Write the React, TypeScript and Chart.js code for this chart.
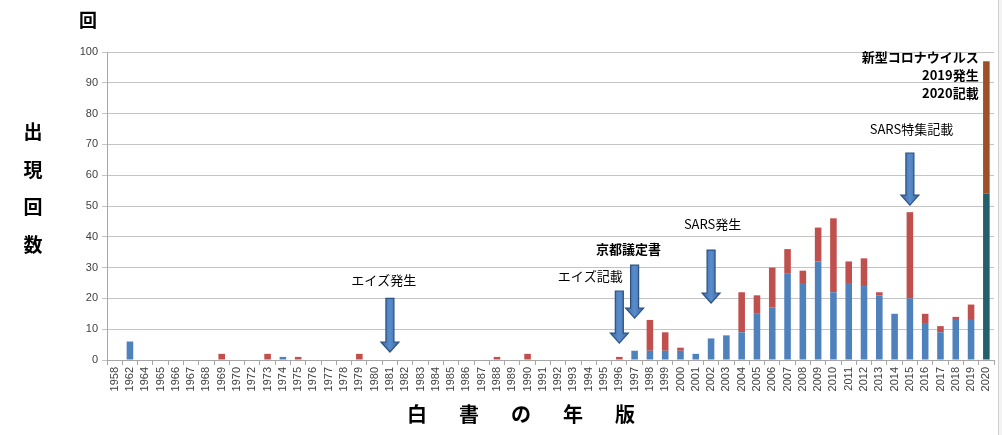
import { useEffect, useRef } from 'react';
import { Chart, registerables } from 'chart.js';

Chart.register(...registerables);

// ---- data ----
const years: string[] = [
  '1958', '1962', '1964', '1965', '1966', '1967', '1968', '1969', '1970',
  '1972', '1973', '1974', '1975', '1976', '1977', '1978', '1979', '1980',
  '1981', '1982', '1983', '1984', '1985', '1986', '1987', '1988', '1989',
  '1990', '1991', '1992', '1993', '1994', '1995', '1996', '1997', '1998',
  '1999', '2000', '2001', '2002', '2003', '2004', '2005', '2006', '2007',
  '2008', '2009', '2010', '2011', '2012', '2013', '2014', '2015', '2016',
  '2017', '2018', '2019', '2020',
];

// lower (blue) segment
const lowerCounts: number[] = [
  0, 6, 0, 0, 0, 0, 0, 0, 0,
  0, 0, 1, 0, 0, 0, 0, 0, 0,
  0, 0, 0, 0, 0, 0, 0, 0, 0,
  0, 0, 0, 0, 0, 0, 0, 3, 3,
  3, 3, 2, 7, 8, 9, 15, 17, 28,
  25, 32, 22, 25, 24, 21, 15, 20, 12,
  9, 13, 13, 54,
];

// upper (red) segment
const upperCounts: number[] = [
  0, 0, 0, 0, 0, 0, 0, 2, 0,
  0, 2, 0, 1, 0, 0, 0, 2, 0,
  0, 0, 0, 0, 0, 0, 0, 1, 0,
  2, 0, 0, 0, 0, 0, 1, 0, 10,
  6, 1, 0, 0, 0, 13, 6, 13, 8,
  4, 11, 24, 7, 9, 1, 0, 28, 3,
  2, 1, 5, 43,
];

const yTicks: number[] = [0, 10, 20, 30, 40, 50, 60, 70, 80, 90, 100];

const yTitleChars: string[] = ['出', '現', '回', '数'];
const xTitleChars: string[] = ['白', '書', 'の', '年', '版'];
const unitLabel = '回';

// annotation arrows: category, start value, tip value
const arrowCats: string[] = ['1981', '1996', '1997', '2002', '2015'];
const arrowFrom: number[] = [20, 22.4, 30.8, 35.7, 67.2];
const arrowTo: number[] = [2.6, 5.5, 13.6, 18.5, 50.3];

// annotation texts: label, category index position, value position
const noteTexts: string[] = ['エイズ発生', 'エイズ記載', '京都議定書', 'SARS発生', 'SARS特集記載'];
const noteIndex: number[] = [17.6, 31.1, 33.6, 39.1, 52.1];
const noteValue: number[] = [26, 27.3, 36, 44.2, 75];
const noteBold: boolean[] = [false, false, true, false, false];

const covidLines: string[] = ['新型コロナウイルス', '2019発生', '2020記載'];
const covidValues: number[] = [98.4, 92.5, 86.7];
const covidIndex = 56.5;

// ---- styles ----
const BLUE = '#4f81bd';
const RED = '#c0504d';
const TEAL = '#245f6c';
const BROWN = '#9e4f28';
const JP = '"Noto Sans CJK JP", "Noto Sans", sans-serif';
const TICK_FONT = '"Liberation Sans", Arial, sans-serif';

const W = 1002;
const H = 435;

const annotationPlugin = {
  id: 'annotationsAndTitles',
  afterDatasetsDraw(chart: any) {
    const ctx = chart.ctx as CanvasRenderingContext2D;
    const xs = chart.scales.x;
    const ys = chart.scales.y;

    // arrows
    arrowCats.forEach((cat, i) => {
      const idx = years.indexOf(cat);
      const cx = xs.getPixelForValue(idx);
      const top = ys.getPixelForValue(arrowFrom[i]);
      const tip = ys.getPixelForValue(arrowTo[i]);
      const sw = 4;
      const hw = 9;
      const hl = 10;
      ctx.save();
      ctx.beginPath();
      ctx.moveTo(cx - sw, top);
      ctx.lineTo(cx + sw, top);
      ctx.lineTo(cx + sw, tip - hl);
      ctx.lineTo(cx + hw, tip - hl);
      ctx.lineTo(cx, tip);
      ctx.lineTo(cx - hw, tip - hl);
      ctx.lineTo(cx - sw, tip - hl);
      ctx.closePath();
      const g = ctx.createLinearGradient(cx - hw, 0, cx + hw, 0);
      g.addColorStop(0, '#3b6aa5');
      g.addColorStop(0.5, '#5a8ccb');
      g.addColorStop(1, '#3b6aa5');
      ctx.fillStyle = g;
      ctx.fill();
      ctx.lineWidth = 1.2;
      ctx.strokeStyle = '#2d5181';
      ctx.stroke();
      ctx.restore();
    });

    // notes
    ctx.save();
    ctx.fillStyle = '#000';
    ctx.textBaseline = 'middle';
    noteTexts.forEach((t, i) => {
      const x = xs.getPixelForValue(noteIndex[i]);
      const y = ys.getPixelForValue(noteValue[i]);
      ctx.font = `${noteBold[i] ? 'bold ' : ''}13px ${JP}`;
      ctx.textAlign = 'center';
      ctx.fillText(t, x, y);
    });
    covidLines.forEach((t, i) => {
      const x = xs.getPixelForValue(covidIndex);
      const y = ys.getPixelForValue(covidValues[i]);
      ctx.font = `bold 13px ${JP}`;
      ctx.textAlign = 'right';
      ctx.fillText(t, x, y);
    });
    ctx.restore();
  },
  afterDraw(chart: any) {
    const ctx = chart.ctx as CanvasRenderingContext2D;
    ctx.save();
    ctx.fillStyle = '#000';
    ctx.textAlign = 'center';
    ctx.textBaseline = 'middle';
    // unit label
    ctx.font = `bold 18px ${JP}`;
    ctx.fillText(unitLabel, 88, 20);
    // y title
    ctx.font = `bold 19px ${JP}`;
    yTitleChars.forEach((c, i) => {
      ctx.fillText(c, 33, 132 + i * 37.5);
    });
    // x title
    ctx.font = `bold 20px ${JP}`;
    xTitleChars.forEach((c, i) => {
      ctx.fillText(c, 417 + i * 52, 414);
    });
    // right border of the picture
    ctx.fillStyle = '#f3f3f3';
    ctx.fillRect(998, 0, W - 998, H);
    ctx.strokeStyle = '#d0d0d0';
    ctx.lineWidth = 1;
    ctx.beginPath();
    ctx.moveTo(998.5, 0);
    ctx.lineTo(998.5, H);
    ctx.stroke();
    ctx.restore();
  },
};

export default function App() {
  const ref = useRef<HTMLCanvasElement | null>(null);

  useEffect(() => {
    document.body.style.margin = '0';
    const canvas = ref.current;
    if (!canvas) return;
    const last = years.length - 1;
    const chart = new Chart(canvas, {
      type: 'bar',
      data: {
        labels: years,
        datasets: [
          {
            label: 'lower',
            data: lowerCounts,
            backgroundColor: years.map((_, i) => (i === last ? TEAL : BLUE)),
            barPercentage: 0.43,
            categoryPercentage: 1,
            stack: 's',
          },
          {
            label: 'upper',
            data: upperCounts,
            backgroundColor: years.map((_, i) => (i === last ? BROWN : RED)),
            barPercentage: 0.43,
            categoryPercentage: 1,
            stack: 's',
          },
        ],
      },
      options: {
        responsive: false,
        animation: false,
        devicePixelRatio: 1,
        layout: { padding: { left: 0, right: 8, top: 52, bottom: 0 } },
        plugins: {
          legend: { display: false },
          tooltip: { enabled: false },
        },
        scales: {
          x: {
            stacked: true,
            afterFit(scale: any) {
              scale.height = 75;
            },
            grid: {
              display: true,
              drawOnChartArea: false,
              drawTicks: true,
              tickLength: 5,
              color: '#a6a6a6',
              offset: true,
            },
            border: { display: true, color: '#a6a6a6' },
            ticks: {
              autoSkip: false,
              maxRotation: 90,
              minRotation: 90,
              padding: 2,
              color: '#404040',
              font: { family: TICK_FONT, size: 11 },
            },
          },
          y: {
            stacked: true,
            min: 0,
            max: 100,
            afterFit(scale: any) {
              scale.width = 107;
            },
            afterBuildTicks(scale: any) {
              scale.ticks = yTicks.map((v) => ({ value: v }));
            },
            grid: {
              color: '#c4c4c4',
              drawTicks: true,
              tickLength: 5,
            },
            border: { display: true, color: '#a6a6a6' },
            ticks: {
              padding: 4,
              color: '#404040',
              font: { family: TICK_FONT, size: 11 },
            },
          },
        },
      },
      plugins: [annotationPlugin],
    });
    return () => chart.destroy();
  }, []);

  return (
    <div style={{ position: 'absolute', left: 0, top: 0, width: W, height: H, background: '#fff' }}>
      <canvas ref={ref} width={W} height={H} style={{ display: 'block', width: W, height: H }} />
    </div>
  );
}
